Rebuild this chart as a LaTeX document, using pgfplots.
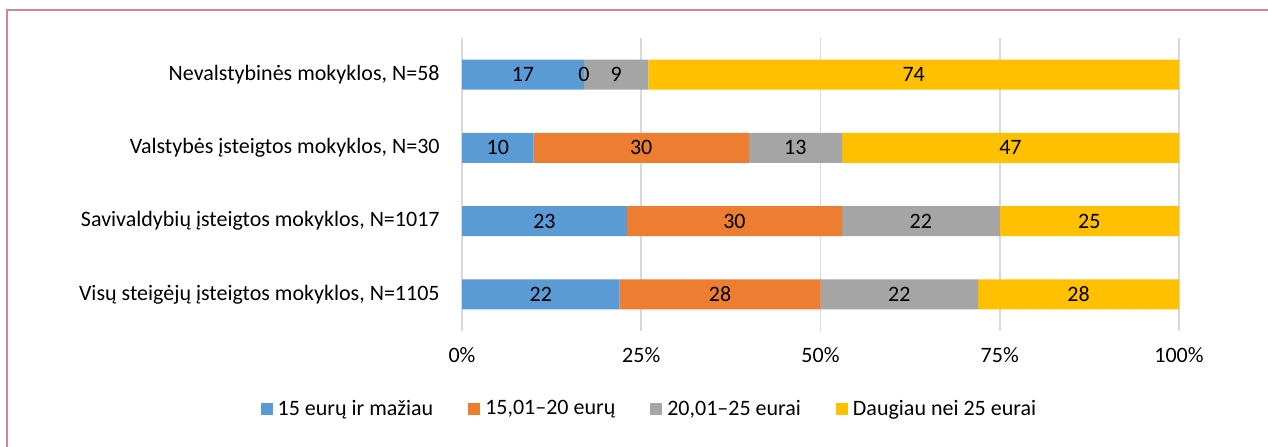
\documentclass[border=0pt]{standalone}
\usepackage{fontspec}
\setmainfont{Carlito}
\usepackage{pgfplots}
\usepackage{pgfplotstable}
\pgfplotsset{compat=1.18}
\definecolor{barBlue}{RGB}{91,155,213}
\definecolor{barOrange}{RGB}{237,125,49}
\definecolor{barGray}{RGB}{165,165,165}
\definecolor{barGold}{RGB}{255,192,0}
\definecolor{gridGray}{RGB}{217,217,217}
\definecolor{framePink}{RGB}{214,130,155}

% rows: 0 = Visu, 1 = Savivaldybiu, 2 = Valstybes, 3 = Nevalstybines
\pgfplotstableread{
y v
0 22
1 23
2 10
3 17
}\lowtab
\pgfplotstableread{
y v
0 28
1 30
2 30
3 0
}\midtab
\pgfplotstableread{
y v
0 22
1 22
2 13
3 9
}\hightab
\pgfplotstableread{
y v
0 28
1 25
2 47
3 74
}\toptab

\pgfplotsset{
  barframe/.style={
    at={(231pt,57.5pt)}, anchor=south west,
    scale only axis, width=358.5pt, height=146.5pt,
    xbar stacked, bar width=15pt,
    xmin=0, xmax=100, ymin=-0.5, ymax=3.5,
  },
}

\begin{document}
\begin{tikzpicture}[font=\fontsize{11}{13}\selectfont]
\path[use as bounding box] (0pt,0pt) rectangle (634pt,223pt);
\draw[framePink, line width=0.75pt] (3.5pt,-2pt) -- (3.5pt,218pt) -- (640pt,218pt);
\begin{axis}[
  barframe,
  xtick={0,25,50,75,100},
  xticklabels={0\%,25\%,50\%,75\%,100\%},
  ytick={0,1,2,3},
  yticklabels={{Visų steigėjų įsteigtos mokyklos, N=1105},
               {Savivaldybių įsteigtos mokyklos, N=1017},
               {Valstybės įsteigtos mokyklos, N=30},
               {Nevalstybinės mokyklos, N=58}},
  xmajorgrids, grid style={gridGray, line width=0.8pt},
  axis line style={draw=none},
  major tick length=0pt,
  xticklabel style={anchor=base, inner sep=0pt, yshift=-15.5pt},
  yticklabel style={anchor=east, inner sep=0pt, xshift=-11pt},
  legend columns=4,
  legend image code/.code={\fill[#1] (0pt,-3pt) rectangle (6pt,3pt);},
  legend style={at={(0.260,-0.266)}, anchor=center, draw=none,
    nodes={inner sep=0pt, anchor=west},
    /tikz/every odd column/.append style={column sep=2.5pt},
    /tikz/every even column/.append style={column sep=17.5pt}},
]
\addplot[draw=none, fill=barBlue] table[x=v, y=y] {\lowtab};
\addlegendentry{15 eurų ir mažiau}
\addplot[draw=none, fill=barOrange] table[x=v, y=y] {\midtab};
\addlegendentry{15,01–20 eurų}
\addplot[draw=none, fill=barGray] table[x=v, y=y] {\hightab};
\addlegendentry{20,01–25 eurai}
\addplot[draw=none, fill=barGold] table[x=v, y=y] {\toptab};
\addlegendentry{Daugiau nei 25 eurai}
\end{axis}
% same stacks again, unfilled, so every value label sits above all bars
% (a hair added to the middle stack so the zero-width segment keeps its label)
\begin{axis}[
  barframe, hide axis, xmax=100.01,
  /pgf/number format/assume math mode=true,
  point meta=explicit,
  nodes near coords,
  every node near coord/.append style={anchor=center, text=black},
]
\addplot[draw=none, fill=none] table[x=v, y=y, meta=v] {\lowtab};
\addplot[draw=none, fill=none] table[x expr=\thisrow{v}+0.001, y=y, meta=v] {\midtab};
\addplot[draw=none, fill=none] table[x=v, y=y, meta=v] {\hightab};
\addplot[draw=none, fill=none] table[x=v, y=y, meta=v] {\toptab};
\end{axis}
\end{tikzpicture}
\end{document}
